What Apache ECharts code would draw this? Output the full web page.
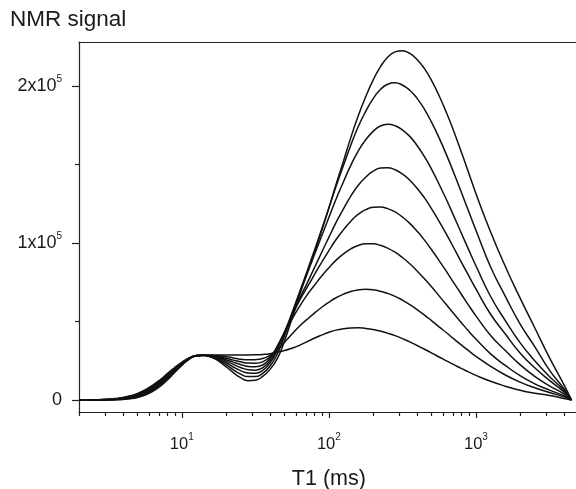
<!DOCTYPE html>
<html>
<head>
<meta charset="utf-8">
<script src="https://cdn.jsdelivr.net/npm/echarts@6/dist/echarts.min.js"></script>
<style>
html,body{margin:0;padding:0;background:#fff;}
#c{width:576px;height:489px;}
</style>
</head>
<body>
<div id="c"></div>
<script>
// T1 relaxation time (ms)
const t1 = [2, 2.51, 2.82, 3.16, 3.55, 3.98, 4.47, 5.01, 5.62, 6.31, 7.08, 7.94, 8.91, 10, 11.2, 12.6, 14.1, 15.8, 17.8, 20, 22.4, 25.1, 28.2, 31.6, 35.5, 39.8, 44.7, 50.1, 56.2, 63.1, 70.8, 79.4, 89.1, 100, 112, 126, 141, 158, 178, 200, 224, 251, 282, 316, 355, 398, 447, 501, 562, 631, 708, 794, 891, 1000, 1259, 1585, 1995, 2512, 3162, 3981, 4467];

// NMR signal of the eight distributions (largest to smallest main peak)
const curve1 = [0, 0, 20, 60, 160, 380, 820, 1650, 3080, 5330, 8520, 12640, 17350, 22030, 25900, 28200, 28400, 27300, 24800, 21200, 17400, 14200, 12300, 12600, 15000, 19500, 26500, 38000, 52000, 66500, 80000, 93200, 107400, 122200, 137400, 152400, 167100, 180700, 193100, 203700, 212200, 218300, 221700, 222500, 220700, 216900, 211000, 203200, 193800, 182900, 171000, 158200, 144900, 131500, 107000, 85000, 65000, 46000, 27000, 9500, 0];
const curve2 = [0, 0, 50, 120, 260, 550, 1080, 2020, 3560, 5900, 9120, 13210, 17800, 22310, 26030, 28210, 28400, 27500, 25400, 22500, 19200, 16500, 14900, 14900, 17000, 21500, 29500, 41000, 55000, 68500, 81500, 94800, 108400, 122300, 136100, 149600, 162300, 173900, 183800, 191900, 197700, 201100, 202000, 200600, 197300, 192100, 185100, 176600, 166900, 156100, 144600, 132600, 120300, 108100, 84700, 66000, 48500, 34000, 19000, 7000, 0];
const curve3 = [0, 0, 90, 180, 370, 720, 1340, 2390, 4040, 6460, 9710, 13770, 18250, 22590, 26160, 28230, 28500, 27700, 26000, 23700, 21000, 18700, 17200, 17000, 18800, 23500, 32000, 43000, 55500, 68000, 80000, 92100, 104100, 116200, 128000, 139200, 149400, 158400, 165700, 171100, 174500, 175600, 174700, 172100, 167900, 162100, 155000, 146700, 137400, 127500, 117100, 106500, 95900, 85500, 65900, 50500, 36500, 25000, 15000, 6000, 0];
const curve4 = [0, 0, 120, 240, 470, 890, 1600, 2760, 4520, 7030, 10310, 14340, 18700, 22870, 26290, 28240, 28500, 27900, 26600, 24800, 22700, 20700, 19300, 19000, 20500, 25000, 33500, 43500, 54000, 64500, 74000, 83800, 93800, 103600, 113100, 121900, 129900, 136600, 141900, 145700, 147700, 147900, 146600, 144000, 140000, 134900, 128700, 121600, 113800, 105500, 96800, 88000, 79300, 70700, 54600, 42000, 30000, 20500, 12500, 5000, 0];
const curve5 = [0, 0, 150, 300, 570, 1060, 1860, 3120, 4990, 7590, 10910, 14900, 19150, 23160, 26410, 28260, 28500, 28100, 27100, 25700, 24100, 22600, 21400, 21200, 22300, 26500, 34500, 43500, 53500, 63300, 71400, 79500, 87500, 95100, 102200, 108500, 113900, 118200, 121200, 122700, 122900, 121900, 119800, 116600, 112500, 107500, 101800, 95500, 88800, 81800, 74600, 67500, 60400, 53600, 41100, 31500, 22500, 15000, 9000, 3800, 0];
const curve6 = [0, 0, 180, 360, 680, 1230, 2130, 3490, 5470, 8160, 11510, 15470, 19600, 23440, 26540, 28270, 28600, 28300, 27600, 26600, 25400, 24300, 23500, 23400, 24300, 27500, 34000, 42500, 51500, 59500, 66600, 72800, 78800, 84200, 89100, 93100, 96300, 98400, 99500, 99500, 98500, 96700, 94100, 90800, 86800, 82200, 77200, 71900, 66300, 60600, 54900, 49400, 43900, 38800, 29400, 22000, 15500, 10300, 6300, 2600, 0];
const curve7 = [0, 0, 210, 410, 780, 1400, 2390, 3860, 5950, 8720, 12100, 16030, 20050, 23720, 26670, 28290, 28600, 28400, 28100, 27600, 26800, 26000, 25600, 25700, 26400, 28500, 32000, 37000, 42000, 47000, 51200, 55200, 58900, 62200, 65100, 67400, 69100, 70100, 70500, 70200, 69300, 67900, 66000, 63600, 60700, 57600, 54100, 50400, 46600, 42800, 38900, 35100, 31400, 27800, 21400, 15900, 11400, 7800, 4800, 2000, 0];
const curve8 = [0, 0, 240, 470, 890, 1570, 2650, 4230, 6430, 9290, 12700, 16600, 20500, 24000, 26800, 28300, 28500, 28600, 28600, 28600, 28600, 28700, 28700, 28800, 29000, 29500, 30500, 31500, 33000, 34800, 37000, 39300, 41300, 43100, 44500, 45400, 45900, 46000, 45600, 44900, 43900, 42600, 41000, 39100, 37000, 34700, 32300, 29900, 27400, 24900, 22500, 20100, 17900, 15700, 11900, 8800, 6200, 4300, 2900, 1000, 0];

// Axis ticks
const xMajorTicks = [10, 100, 1000];
const xMinorTicks = [2, 3, 4, 5, 6, 7, 8, 9, 20, 30, 40, 50, 60, 70, 80, 90, 200, 300, 400, 500, 600, 700, 800, 900, 2000, 3000, 4000, 5000];
const yMajorTicks = [0, 100000, 200000];
const yMinorTicks = [50000, 150000];

const curves = [curve1, curve2, curve3, curve4, curve5, curve6, curve7, curve8];

const FONT = '"Liberation Sans", Arial, Helvetica, sans-serif';
const INK = '#1a1a1a';
const AX = '#222';

const chart = echarts.init(document.getElementById('c'), null, {renderer: 'canvas'});

const xRich = {
  b: {fontFamily: FONT, fontSize: 16.5, color: INK},
  s: {fontFamily: FONT, fontSize: 10, color: INK, padding: [0, 0, 14, 0]}
};
const yRich = {
  b: {fontFamily: FONT, fontSize: 18, color: INK},
  s: {fontFamily: FONT, fontSize: 10, color: INK, padding: [0, 0, 14, 0]}
};

const option = {
  animation: false,
  backgroundColor: '#fff',
  title: {
    text: 'NMR signal', left: 10, top: 8, padding: 0,
    textStyle: {fontFamily: FONT, fontSize: 22.5, fontWeight: 'normal', color: INK}
  },
  grid: {
    left: 79, top: 42, width: 499.7, height: 370,
    outerBoundsMode: 'none', containLabel: false,
    show: false
  },
  xAxis: [
    {
      type: 'log', logBase: 10, min: 2, max: 5000, position: 'bottom',
      axisLine: {show: true, onZero: false, lineStyle: {color: AX, width: 1.2}},
      axisTick: {show: true, customValues: xMajorTicks, length: 6, lineStyle: {color: AX, width: 1.2}},
      axisLabel: {
        customValues: xMajorTicks, margin: 20,
        formatter: function (v) { return '{b|10}{s|' + Math.round(Math.log10(v)) + '}'; },
        rich: xRich
      },
      splitLine: {show: false},
      name: 'T1 (ms)', nameLocation: 'middle', nameGap: 56,
      nameTextStyle: {fontFamily: FONT, fontSize: 21.5, color: INK}
    },
    {
      type: 'log', logBase: 10, min: 2, max: 5000, position: 'bottom', gridIndex: 0,
      axisLine: {show: false, onZero: false},
      axisTick: {show: true, customValues: xMinorTicks, length: 4, lineStyle: {color: AX, width: 1.2}},
      axisLabel: {show: false},
      splitLine: {show: false}
    },
    {
      // top frame line
      type: 'log', logBase: 10, min: 2, max: 5000, position: 'top', gridIndex: 0,
      axisLine: {show: true, onZero: false, lineStyle: {color: AX, width: 1.2}},
      axisTick: {show: false},
      axisLabel: {show: false},
      splitLine: {show: false}
    }
  ],
  yAxis: [
    {
      type: 'value', min: -7650, max: 228000, position: 'left',
      axisLine: {show: true, onZero: false, lineStyle: {color: AX, width: 1.2}},
      axisTick: {show: true, customValues: yMajorTicks, length: 7, lineStyle: {color: AX, width: 1.2}},
      axisLabel: {
        customValues: yMajorTicks, margin: 17,
        formatter: function (v) {
          if (v === 0) return '{b|0}';
          return '{b|' + Math.round(v / 100000) + 'x10}{s|5}';
        },
        rich: yRich
      },
      splitLine: {show: false}
    },
    {
      type: 'value', min: -7650, max: 228000, position: 'left', gridIndex: 0,
      axisLine: {show: false, onZero: false},
      axisTick: {show: true, customValues: yMinorTicks, length: 4, lineStyle: {color: AX, width: 1.2}},
      axisLabel: {show: false},
      splitLine: {show: false}
    }
  ],
  series: curves.map(function (c) {
    return {
      type: 'line', xAxisIndex: 0, yAxisIndex: 0,
      data: t1.map(function (x, i) { return [x, c[i]]; }),
      symbol: 'none', smooth: 0.5, silent: true, clip: false,
      lineStyle: {color: '#111', width: 1.5}
    };
  })
};

chart.setOption(option);
</script>
</body>
</html>
